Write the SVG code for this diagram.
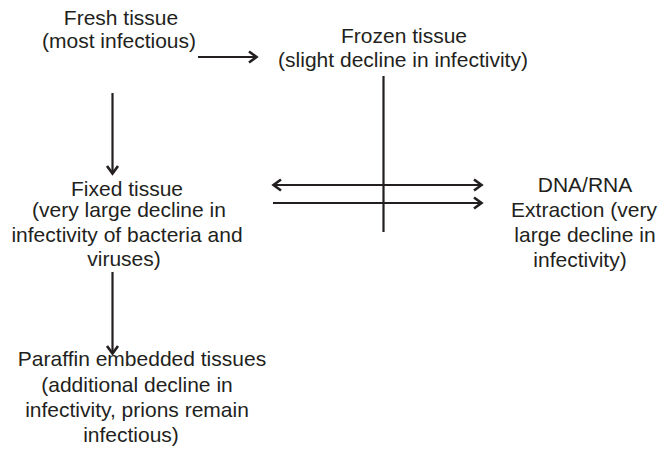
<svg xmlns="http://www.w3.org/2000/svg" width="660" height="453" viewBox="0 0 660 453">
  <style>
    .lbl { font-family: "Liberation Sans", Arial, sans-serif; font-size: 21px; fill: #231f20; text-anchor: middle; }
    .ln { stroke: #231f20; stroke-width: 2.2; fill: none; }
  </style>
  <defs>
    <!-- open chevron arrowhead shared by all connectors -->
    <marker id="chev" markerUnits="userSpaceOnUse" markerWidth="14" markerHeight="16" viewBox="-11 -8 13 16" refX="0" refY="0" orient="auto-start-reverse">
      <path d="M-8,-5.5 L-0.5,0 L-8,5.5" fill="none" stroke="#231f20" stroke-width="2.6" stroke-linejoin="miter"/>
    </marker>
  </defs>
  <rect width="660" height="453" fill="#ffffff"/>

  <g id="fresh">
    <text class="lbl" x="121" y="25">Fresh tissue</text>
    <text class="lbl" x="119" y="48">(most infectious)</text>
  </g>
  <g id="frozen">
    <text class="lbl" x="404" y="43">Frozen tissue</text>
    <text class="lbl" x="403" y="67">(slight decline in infectivity)</text>
  </g>
  <g id="fixed">
    <text class="lbl" x="127" y="196">Fixed tissue</text>
    <text class="lbl" x="129" y="217">(very large decline in</text>
    <text class="lbl" x="127" y="242">infectivity of bacteria and</text>
    <text class="lbl" x="124" y="266">viruses)</text>
  </g>
  <g id="dna">
    <text class="lbl" x="585" y="192">DNA/RNA</text>
    <text class="lbl" x="584" y="217">Extraction (very</text>
    <text class="lbl" x="585" y="242">large decline in</text>
    <text class="lbl" x="580" y="267">infectivity)</text>
  </g>
  <g id="paraffin">
    <text class="lbl" x="142" y="366">Paraffin embedded tissues</text>
    <text class="lbl" x="137" y="392">(additional decline in</text>
    <text class="lbl" x="137" y="417">infectivity, prions remain</text>
    <text class="lbl" x="131" y="442">infectious)</text>
  </g>

  <g id="connectors">
    <line class="ln" x1="198" y1="57" x2="257" y2="57" marker-end="url(#chev)"/>
    <line class="ln" x1="112.5" y1="93" x2="112.5" y2="174" marker-end="url(#chev)"/>
    <line class="ln" x1="383.5" y1="76" x2="383.5" y2="232" stroke-width="1.8"/>
    <line class="ln" x1="273" y1="185" x2="482" y2="185" marker-start="url(#chev)" marker-end="url(#chev)"/>
    <line class="ln" x1="273" y1="203" x2="482" y2="203" marker-end="url(#chev)"/>
    <line class="ln" x1="112.5" y1="272" x2="112.5" y2="354" marker-end="url(#chev)"/>
  </g>
</svg>
